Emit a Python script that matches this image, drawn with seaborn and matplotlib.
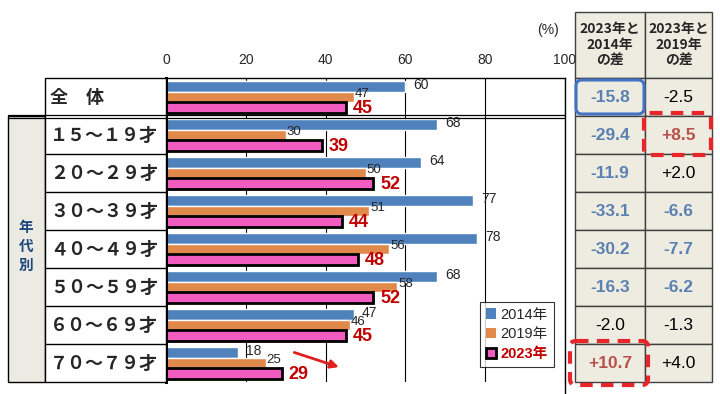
import matplotlib
matplotlib.use('Agg')
import matplotlib.pyplot as plt
import seaborn as sns
import pandas as pd
from matplotlib.patches import Rectangle, FancyBboxPatch, Patch

# data
groups = ['全　体', '１５～１９才', '２０～２９才', '３０～３９才', '４０～４９才',
          '５０～５９才', '６０～６９才', '７０～７９才']
years = ['2014年', '2019年', '2023年']
v2014 = [60, 68, 64, 77, 78, 68, 47, 18]
v2019 = [47, 30, 50, 51, 56, 58, 46, 25]
v2023 = [45, 39, 52, 44, 48, 52, 45, 29]
diff14 = ['-15.8', '-29.4', '-11.9', '-33.1', '-30.2', '-16.3', '-2.0', '+10.7']
diff19 = ['-2.5', '+8.5', '+2.0', '-6.6', '-7.7', '-6.2', '-1.3', '+4.0']
head14 = '2023年と\n2014年\nの差'
head19 = '2023年と\n2019年\nの差'

colors = ['#4f81bd', '#e0894a', '#f25cc0']

sns.set_style('white')
plt.rcParams['font.family'] = ['Liberation Sans', 'Noto Sans CJK JP', 'DejaVu Sans']

df = pd.DataFrame({
    'group': groups * 3,
    'year': [years[0]] * 8 + [years[1]] * 8 + [years[2]] * 8,
    'value': v2014 + v2019 + v2023,
})

fig = plt.figure(figsize=(7.2, 3.94), dpi=100)
ax = fig.add_axes([166 / 720, 1 - 382 / 394, (565 - 166) / 720, (382 - 78) / 394], zorder=1)

sns.barplot(data=df, x='value', y='group', hue='year', orient='h', palette=colors,
            saturation=1, width=0.86, legend=False, ax=ax)
for bar in ax.containers[2]:
    bar.set_edgecolor('black')
    bar.set_linewidth(2)

ax.set_xlim(0, 100)
ax.set_ylim(7.5, -0.5)
ax.set_xticks(range(0, 101, 20))
ax.xaxis.tick_top()
ax.tick_params(axis='x', length=0, pad=8, labelsize=10)
ax.set_yticks([])
ax.set_xlabel('')
ax.set_ylabel('')
ax.grid(axis='x', color='black', lw=0.8)
ax.set_axisbelow(True)
for s in ['top', 'right']:
    ax.spines[s].set_color('black')
    ax.spines[s].set_linewidth(1)
ax.spines['left'].set_linewidth(2.2)
ax.spines['left'].set_color('black')
ax.spines['bottom'].set_visible(False)

# value labels
for i, container in enumerate(ax.containers):
    for bar in container:
        w = bar.get_width()
        yc = bar.get_y() + bar.get_height() / 2
        if i == 0:
            ax.annotate(f'{w:.0f}', (w, yc), xytext=(8, 1), textcoords='offset pixels',
                        ha='left', va='center', fontsize=10)
        elif i == 1:
            ax.annotate(f'{w:.0f}', (w, yc), xytext=(1, 3), textcoords='offset pixels',
                        ha='left', va='center', fontsize=9.5)
        else:
            ax.annotate(f'{w:.0f}', (w, yc), xytext=(7, -1), textcoords='offset pixels',
                        ha='left', va='center', fontsize=13, fontweight='bold', color='#c00000')

# red arrow in the last row
ax.annotate('', xy=(44, 7.13), xytext=(31.5, 6.7),
            arrowprops=dict(arrowstyle='-|>', color='#e02020', lw=2, mutation_scale=12))

# legend
handles = [Patch(facecolor=colors[0], edgecolor='none'),
           Patch(facecolor=colors[1], edgecolor='none'),
           Patch(facecolor=colors[2], edgecolor='black', linewidth=2)]
leg = ax.legend(handles, years, loc='lower right', bbox_to_anchor=(0.99, 0.025),
                fontsize=10.5, frameon=True, fancybox=False, edgecolor='black',
                handlelength=0.7, handleheight=0.7, handletextpad=0.3,
                borderpad=0.4, labelspacing=0.4)
leg.get_frame().set_linewidth(0.8)
leg.texts[2].set_color('#c00000')
leg.texts[2].set_fontweight('bold')

# overlay for the label column and the table (pixel coordinates)
ov = fig.add_axes([0, 0, 1, 1], zorder=3)
ov.set_xlim(0, 720)
ov.set_ylim(394, 0)
ov.axis('off')
ov.patch.set_alpha(0)

top, rh = 78, 38
ov.add_patch(Rectangle((8, 116), 37, 266, facecolor='#ecebe3', edgecolor='black', lw=1))
ov.add_patch(Rectangle((45, top), 121, 8 * rh, facecolor='white', edgecolor='black', lw=1))
for i in range(2, 8):
    ov.plot([45, 166], [top + i * rh] * 2, color='black', lw=1)
ov.plot([8, 565], [115, 115], color='black', lw=0.9)
ov.plot([8, 565], [117.5, 117.5], color='black', lw=0.9)
ov.plot([565, 565], [382, 394], color='black', lw=1)
ov.text(26, 246, '年\n代\n別', ha='center', va='center', fontsize=10.5, fontweight='bold',
        color='#1f497d', family=['Noto Sans CJK JP'], linespacing=1.25)
for i, g in enumerate(groups):
    ov.text(50, top + i * rh + rh / 2, g, ha='left', va='center', fontsize=13,
            fontweight='bold', family=['Noto Sans CJK JP'])
ov.text(548, 30, '(%)', ha='center', va='center', fontsize=10)

# table
cx = [575, 645, 712]
ov.add_patch(Rectangle((cx[0], 12), cx[1] - cx[0], top - 12, facecolor='#eeece1', edgecolor='#404040', lw=1))
ov.add_patch(Rectangle((cx[1], 12), cx[2] - cx[1], top - 12, facecolor='#eeece1', edgecolor='#404040', lw=1))
ov.text(610, 45, head14, ha='center', va='center', fontsize=10, fontweight='bold',
        family=['Noto Sans CJK JP'], linespacing=1.2)
ov.text(678.5, 45, head19, ha='center', va='center', fontsize=10, fontweight='bold',
        family=['Noto Sans CJK JP'], linespacing=1.2)


def cell_color(s):
    v = float(s)
    if v <= -5:
        return '#5b80b2', 'bold'
    if v >= 5:
        return '#b9504a', 'bold'
    return 'black', 'normal'


for i in range(8):
    y0 = top + i * rh
    for j, vals in enumerate([diff14, diff19]):
        ov.add_patch(Rectangle((cx[j], y0), cx[j + 1] - cx[j], rh, facecolor='#eeece1',
                               edgecolor='#404040', lw=1))
        c, fw = cell_color(vals[i])
        ov.text((cx[j] + cx[j + 1]) / 2, y0 + rh / 2, vals[i], ha='center', va='center',
                fontsize=12.5, color=c, fontweight=fw)

# highlight boxes
ov.add_patch(FancyBboxPatch((576, 80), 68, 34, boxstyle='round,pad=0,rounding_size=6',
                            facecolor='none', edgecolor='#4472c4', lw=2.2))
ov.add_patch(FancyBboxPatch((644, 113), 67, 42, boxstyle='round,pad=0,rounding_size=6',
                            facecolor='none', edgecolor='#e8262a', lw=3, linestyle=(0, (3, 2))))
ov.add_patch(FancyBboxPatch((570, 341), 78, 44, boxstyle='round,pad=0,rounding_size=6',
                            facecolor='none', edgecolor='#e8262a', lw=3, linestyle=(0, (3, 2))))

fig.savefig('out.png', dpi=100)
